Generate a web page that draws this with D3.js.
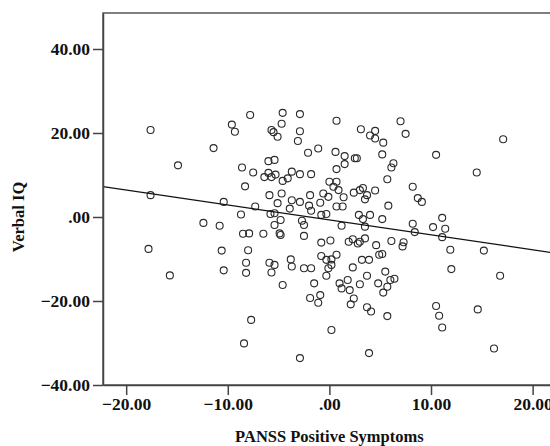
<!DOCTYPE html>
<html>
<head>
<meta charset="utf-8">
<script src="https://cdn.jsdelivr.net/npm/d3@7"></script>
<style>
  body { margin: 0; background: #fff; }
  svg { display: block; }
  .tick text { font-family: 'Liberation Serif', 'Times New Roman', serif; font-weight: bold; font-size: 17.5px; fill: #111; }
  .title { font-family: 'Liberation Serif', 'Times New Roman', serif; font-weight: bold; font-size: 16.5px; fill: #111; }
</style>
</head>
<body>
<div id="chart"></div>
<script>
'use strict';

// PANSS positive symptoms (x) vs verbal IQ (y)
const panss = [
  -17.6, -7.8, -9.6, -9.3, -11.4, -14.9, -8.6, -7.5, -8.3, -17.6, -10.4, -8.7, -12.4, -10.8, -8.5, -7.9,
  -17.8, -10.6, -8.0, -8.2, -10.4, -8.2, -15.7, -7.7, -1.9, -1.1, 2.1, 2.4, 3.7, 4.1, 5.7, 10.5,
  10.8, 11.1, 14.6, 16.2, -8.4, -2.9, 0.2, 3.9, 7.0, 7.5, 5.3, 5.2, 6.3, 6.1, 10.5, 17.1,
  14.5, 5.7, 8.2, 8.7, 9.1, 5.8, 5.2, 11.1, 8.2, 10.2, 11.4, 8.4, 11.1, 6.1, 7.3, 7.2,
  5.2, 11.9, 15.2, 12.0, 16.8, 5.5, 6.4, 6.0, 5.7, 5.3, 3.1, 4.0, 4.5, 4.5, -4.6, -2.9,
  -4.7, -5.7, -5.5, -5.1, -2.9, -3.1, 0.7, -2.1, -1.1, 0.6, 1.5, 2.5, 2.7, 1.5, -6.0, -5.4,
  -6.4, -6.0, -5.7, -5.3, -4.6, -4.1, -3.7, -2.9, -1.8, 0.7, 0.0, 0.7, 0.4, 0.9, -0.6, -0.1,
  1.4, 2.4, 3.0, 3.3, 3.7, 3.5, 4.5, -5.9, -4.7, -5.1, -3.7, -2.9, -1.9, -0.9, -7.3, -3.9,
  -2.0, 0.7, 1.3, -1.8, -5.8, -5.4, -4.8, -5.4, -2.7, -2.5, -0.8, -0.3, 1.2, 2.9, 3.3, 4.0,
  3.5, -6.5, -4.9, -4.8, -2.5, -0.8, 0.1, 1.9, 2.3, 2.8, 3.0, 3.5, 4.6, -5.9, -5.4, -5.7,
  -3.8, -3.7, -2.5, -1.8, -0.8, -0.3, 0.2, 0.7, 0.2, -0.1, -0.3, 2.3, 3.2, 3.9, 4.9, 3.7,
  -4.6, -1.5, 1.0, 1.2, 1.8, 2.0, 3.0, 4.8, -0.9
];
const verbalIQ = [
  20.7, 24.3, 22.0, 20.3, 16.4, 12.3, 11.8, 10.6, 7.3, 5.2, 3.6, 0.6, -1.4, -2.1, -4.0, -3.9,
  -7.6, -8.0, -7.9, -10.9, -12.7, -13.3, -13.9, -24.5, -19.3, -20.4, -20.8, -19.4, -21.5, -22.5, -23.6, -21.2,
  -23.5, -26.3, -22.0, -31.3, -30.1, -33.6, -26.9, -32.4, 22.8, 19.8, 17.7, 14.9, 12.8, 11.8, 14.8, 18.5,
  10.6, 9.0, 7.2, 4.5, 3.6, 2.7, -0.5, -0.2, -1.6, -2.4, -2.8, -3.6, -4.8, -5.7, -6.0, -7.0,
  -8.8, -7.8, -8.0, -12.4, -14.0, -13.0, -14.7, -15.0, -16.6, -18.0, 20.9, 19.4, 20.5, 18.7, 24.8, 24.5,
  22.2, 20.7, 20.2, 19.1, 20.4, 18.1, 22.9, 15.3, 16.3, 15.5, 14.5, 14.0, 14.0, 12.6, 13.3, 13.6,
  9.5, 10.5, 9.5, 10.1, 8.6, 9.2, 10.8, 10.2, 10.2, 11.4, 8.4, 8.4, 7.2, 6.4, 5.6, 4.8,
  4.7, 5.8, 6.4, 6.9, 5.2, 4.2, 6.3, 5.2, 5.6, 3.3, 4.0, 3.6, 5.2, 3.4, 2.5, 2.0,
  2.7, 2.5, 2.5, 1.5, 0.7, 0.9, -0.7, -1.9, -0.9, -1.9, 0.5, 0.7, -2.1, 0.5, -0.5, 0.5,
  -2.3, -4.0, -3.9, -4.3, -4.5, -6.1, -5.6, -5.9, -5.3, -6.3, -5.9, -5.1, -6.7, -10.9, -11.4, -13.2,
  -10.1, -11.8, -12.2, -12.2, -9.3, -10.2, -10.1, -9.0, -11.4, -12.2, -14.0, -12.0, -10.2, -10.2, -9.0, -14.0,
  -16.2, -15.8, -15.8, -17.0, -15.0, -17.4, -16.0, -15.8, -18.6
];

const xTicks = [-20, -10, 0, 10, 20];
const yTicks = [-40, -20, 0, 20, 40];

// fitted regression line
const fitIntercept = -0.7;
const fitSlope = -0.355;

const width = 550;
const height = 446;
const margin = { left: 103, top: 13, right: -6, bottom: 61 };

const svg = d3.select('#chart')
  .append('svg')
  .attr('width', width)
  .attr('height', height);

const scaleX = d3.scaleLinear()
  .domain([-22.28, 22.3])
  .range([margin.left, width - margin.right]);

const scaleY = d3.scaleLinear()
  .domain([-40, 48.57])
  .range([height - margin.bottom, margin.top]);

const fmt = d => d === 0 ? '.00' : d3.format('.2f')(d);

svg.append('clipPath').attr('id', 'plotclip')
  .append('rect')
  .attr('x', margin.left)
  .attr('y', margin.top)
  .attr('width', width - margin.right - margin.left)
  .attr('height', height - margin.bottom - margin.top);

// frame
svg.append('rect')
  .attr('x', margin.left)
  .attr('y', margin.top)
  .attr('width', width - margin.right - margin.left)
  .attr('height', height - margin.bottom - margin.top)
  .attr('fill', 'none')
  .attr('stroke', '#555')
  .attr('stroke-width', 1.5);

// points
svg.append('g')
  .attr('clip-path', 'url(#plotclip)')
  .selectAll('circle')
  .data(panss.map((x, i) => [x, verbalIQ[i]]))
  .enter()
  .append('circle')
  .attr('cx', d => scaleX(d[0]))
  .attr('cy', d => scaleY(d[1]))
  .attr('r', 3.5)
  .attr('fill', 'none')
  .attr('stroke', '#2a2a2a')
  .attr('stroke-width', 1.1);

// fit line
const x0 = scaleX.domain()[0];
const x1 = scaleX.domain()[1];
svg.append('line')
  .attr('clip-path', 'url(#plotclip)')
  .attr('x1', scaleX(x0))
  .attr('y1', scaleY(fitIntercept + fitSlope * x0))
  .attr('x2', scaleX(x1))
  .attr('y2', scaleY(fitIntercept + fitSlope * x1))
  .attr('stroke', '#111')
  .attr('stroke-width', 1.3);

// axes
const xAxis = d3.axisBottom(scaleX)
  .tickValues(xTicks)
  .tickFormat(fmt)
  .tickSize(10)
  .tickSizeOuter(0)
  .tickPadding(3);
svg.append('g')
  .attr('class', 'axisX')
  .attr('transform', `translate(0, ${height - margin.bottom})`)
  .call(xAxis);

const yAxis = d3.axisLeft(scaleY)
  .tickValues(yTicks)
  .tickFormat(fmt)
  .tickSize(10)
  .tickSizeOuter(0)
  .tickPadding(3);
svg.append('g')
  .attr('class', 'axisY')
  .attr('transform', `translate(${margin.left}, 0)`)
  .call(yAxis);

svg.selectAll('.axisX path, .axisY path, .tick line')
  .attr('stroke', '#444')
  .attr('stroke-width', 1.5);

// titles
svg.append('text')
  .attr('class', 'title')
  .attr('x', scaleX(0))
  .attr('y', 442)
  .attr('text-anchor', 'middle')
  .text('PANSS Positive Symptoms');

svg.append('text')
  .attr('class', 'title')
  .attr('transform', `translate(24, ${scaleY(0)}) rotate(-90)`)
  .attr('text-anchor', 'middle')
  .text('Verbal IQ');
</script>
</body>
</html>
